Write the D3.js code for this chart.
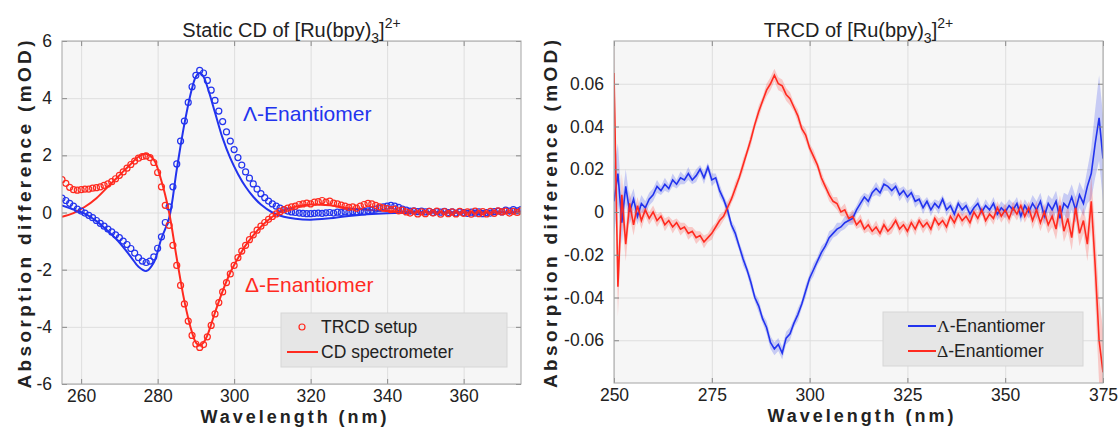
<!DOCTYPE html>
<html>
<head>
<meta charset="utf-8">
<script src="https://cdn.jsdelivr.net/npm/d3@7"></script>
<style>
  body { margin: 0; background: #fff; }
  svg text { font-family: "Liberation Sans", Arial, sans-serif; }
</style>
</head>
<body>
<script>
// ---- static CD data (TRCD setup circles, 1 nm grid 255..375) ----
const cdWlCircles = d3.range(255, 376);
const lambdaCircles = [
  0.50,0.42,0.32,0.22,0.12,0.05,-0.02,-0.10,-0.18,-0.28,
  -0.38,-0.48,-0.58,-0.68,-0.78,-0.88,-1.00,-1.12,-1.26,-1.42,
  -1.58,-1.70,-1.75,-1.70,-1.55,-1.25,-0.85,-0.35,0.20,0.90,
  1.70,2.50,3.20,3.85,4.40,4.80,4.97,4.88,4.62,4.28,
  3.92,3.55,3.18,2.82,2.50,2.20,1.92,1.66,1.42,1.20,
  1.00,0.82,0.66,0.52,0.40,0.30,0.22,0.15,0.10,0.05,
  0.02,0.00,-0.02,-0.03,-0.04,-0.04,-0.03,-0.02,-0.03,-0.01,
  0.00,-0.02,0.01,0.00,0.02,0.01,0.03,0.02,0.05,0.03,
  0.06,0.08,0.12,0.15,0.20,0.22,0.25,0.22,0.18,0.12,
  0.08,0.05,0.06,0.03,0.05,0.02,0.04,0.00,0.03,0.01,
  0.04,0.00,0.02,-0.02,0.02,0.00,-0.03,0.01,-0.02,0.02,
  -0.04,0.00,-0.02,0.03,0.05,0.02,0.08,0.05,0.10,0.06,0.10
];
const deltaCircles = [
  1.15,1.02,0.88,0.80,0.78,0.80,0.82,0.82,0.85,0.87,
  0.90,0.95,1.00,1.08,1.18,1.30,1.42,1.55,1.68,1.80,
  1.90,1.96,1.98,1.92,1.75,1.40,0.90,0.25,-0.45,-1.15,
  -1.85,-2.55,-3.20,-3.80,-4.30,-4.60,-4.72,-4.62,-4.35,-3.95,
  -3.55,-3.15,-2.78,-2.45,-2.15,-1.85,-1.58,-1.35,-1.15,-0.95,
  -0.78,-0.62,-0.48,-0.35,-0.24,-0.14,-0.05,0.03,0.10,0.15,
  0.20,0.22,0.28,0.30,0.33,0.30,0.36,0.38,0.42,0.36,
  0.40,0.33,0.30,0.26,0.22,0.18,0.20,0.15,0.22,0.28,
  0.32,0.30,0.25,0.20,0.16,0.14,0.10,0.12,0.06,0.08,
  0.02,-0.02,0.05,-0.05,0.02,-0.04,0.04,-0.02,0.05,-0.06,
  0.03,-0.04,0.02,-0.05,0.04,-0.03,0.02,-0.06,0.05,-0.04,
  0.03,-0.05,0.04,-0.03,0.06,0.02,0.05,-0.02,0.04,0.00,0.06
];

// ---- CD spectrometer lines ----
const cdWlLine = [255,258,261,264,267,270,273,275,277,279,281,283,285,287,289,290,291,292,293,295,297,299,301,303,305,307,310,313,316,320,325,330,340,350,360,375];
const lambdaLine = [0.25,0.10,-0.05,-0.30,-0.65,-1.05,-1.55,-1.90,-2.05,-1.75,-0.90,-0.20,1.50,3.10,4.35,4.75,4.88,4.75,4.40,3.50,2.60,1.90,1.35,0.90,0.55,0.28,0.00,-0.15,-0.22,-0.25,-0.20,-0.12,-0.03,0.00,0.00,0.00];
const deltaLine = [-0.15,-0.02,0.20,0.50,0.90,1.30,1.70,1.95,2.05,1.85,1.10,0.00,-1.60,-3.10,-4.20,-4.55,-4.65,-4.55,-4.30,-3.50,-2.75,-2.10,-1.60,-1.15,-0.80,-0.50,-0.15,0.08,0.20,0.28,0.25,0.15,0.05,0.02,0.00,0.00];

// ---- TRCD data (1 nm grid 250..375) ----
const trcdWl = d3.range(250, 376);
const lambdaTRCD = [
  0.005,0.018,-0.005,0.012,0.000,0.006,-0.002,0.004,0.002,0.006,
  0.008,0.012,0.010,0.013,0.011,0.015,0.013,0.016,0.015,0.018,
  0.015,0.017,0.020,0.016,0.021,0.015,0.016,0.010,0.006,0.001,
  -0.006,-0.010,-0.016,-0.022,-0.027,-0.033,-0.040,-0.044,-0.050,-0.054,
  -0.061,-0.064,-0.062,-0.066,-0.059,-0.057,-0.052,-0.048,-0.043,-0.037,
  -0.031,-0.027,-0.023,-0.019,-0.016,-0.012,-0.010,-0.008,-0.007,-0.005,
  -0.004,-0.003,0.001,0.004,0.007,0.005,0.009,0.011,0.009,0.013,
  0.012,0.010,0.012,0.008,0.010,0.007,0.009,0.005,0.006,0.002,
  0.005,0.001,0.004,0.002,0.006,0.001,0.003,-0.001,0.004,0.001,
  0.003,-0.001,0.002,0.004,0.000,0.003,0.001,0.004,-0.001,0.002,
  0.000,0.003,0.001,0.004,-0.002,0.003,0.000,0.004,0.001,0.005,
  -0.002,0.004,0.001,0.005,-0.003,0.004,0.002,0.007,0.001,0.008,
  0.004,0.012,0.018,0.032,0.044,0.025
];
const deltaTRCD = [
  0.065,-0.035,0.008,-0.015,0.004,-0.006,0.003,-0.004,0.001,-0.003,
  0.000,-0.004,-0.002,-0.006,-0.004,-0.007,-0.005,-0.008,-0.007,-0.010,
  -0.009,-0.012,-0.011,-0.014,-0.012,-0.010,-0.007,-0.004,-0.002,0.002,
  0.006,0.011,0.016,0.022,0.028,0.034,0.041,0.047,0.052,0.057,
  0.060,0.064,0.060,0.059,0.055,0.053,0.049,0.045,0.039,0.036,
  0.030,0.026,0.022,0.016,0.012,0.008,0.005,0.004,0.000,0.001,
  -0.003,-0.002,-0.006,-0.004,-0.008,-0.006,-0.009,-0.007,-0.010,-0.006,
  -0.009,-0.007,-0.004,-0.008,-0.006,-0.009,-0.005,-0.008,-0.004,-0.007,
  -0.005,-0.008,-0.003,-0.006,-0.004,-0.007,-0.002,-0.005,-0.001,-0.004,
  -0.002,-0.005,0.000,-0.003,0.001,-0.004,-0.001,-0.003,0.002,-0.002,
  0.001,-0.003,0.002,-0.001,0.003,-0.002,0.002,-0.004,0.001,-0.005,
  0.000,-0.006,-0.002,-0.008,0.003,-0.009,-0.003,-0.012,0.002,-0.010,
  -0.004,-0.015,0.005,-0.025,-0.060,-0.075
];
// uncertainty (half width of the shaded band)
const errTRCD = [
  0.016,0.014,0.010,0.008,0.006,0.005,0.004,0.004,0.003,0.003,
  0.003,0.003,0.002,0.003,0.002,0.003,0.002,0.003,0.002,0.003,
  0.002,0.003,0.002,0.003,0.002,0.003,0.002,0.003,0.002,0.003,
  0.002,0.003,0.002,0.003,0.002,0.003,0.002,0.003,0.002,0.003,
  0.003,0.003,0.003,0.003,0.003,0.003,0.002,0.003,0.002,0.003,
  0.002,0.003,0.002,0.003,0.002,0.003,0.002,0.003,0.002,0.003,
  0.002,0.003,0.002,0.003,0.002,0.003,0.002,0.003,0.002,0.003,
  0.002,0.003,0.002,0.003,0.002,0.003,0.002,0.003,0.002,0.003,
  0.002,0.003,0.002,0.003,0.002,0.003,0.002,0.003,0.002,0.003,
  0.002,0.003,0.002,0.003,0.002,0.003,0.002,0.003,0.003,0.003,
  0.003,0.003,0.003,0.003,0.003,0.003,0.003,0.004,0.004,0.004,
  0.004,0.004,0.005,0.005,0.005,0.005,0.006,0.006,0.006,0.006,
  0.006,0.008,0.012,0.016,0.020,0.020
];

// ticks
const cdXTicks = [260,280,300,320,340,360];
const cdYTicks = [-6,-4,-2,0,2,4,6];
const trcdXTicks = [250,275,300,325,350,375];
const trcdYTicks = [-0.06,-0.04,-0.02,0,0.02,0.04,0.06];

const BLUE = "#2233ee";
const RED = "#ff2a1f";

const svg = d3.select("body").append("svg")
  .attr("width", 1120)
  .attr("height", 428);

// draws box, grid, ticks and labels; returns the clipped plot group
function panel(id, x, y, xTicks, yTicks, title, yLabelGap) {
  const [x0, x1] = x.range();
  const [y1, y0] = y.range();
  const g = svg.append("g");

  g.append("rect")
    .attr("x", x0).attr("y", y0)
    .attr("width", x1 - x0).attr("height", y1 - y0)
    .attr("fill", "#f6f6f6");

  // grid
  g.append("g")
    .attr("transform", `translate(0,${y1})`)
    .call(d3.axisBottom(x).tickValues(xTicks).tickSize(-(y1 - y0)).tickFormat(""))
    .call(s => s.select(".domain").remove())
    .call(s => s.selectAll("line").attr("stroke", "#dedede"));
  g.append("g")
    .attr("transform", `translate(${x0},0)`)
    .call(d3.axisLeft(y).tickValues(yTicks).tickSize(-(x1 - x0)).tickFormat(""))
    .call(s => s.select(".domain").remove())
    .call(s => s.selectAll("line").attr("stroke", "#dedede"));

  svg.append("clipPath").attr("id", id)
    .append("rect")
    .attr("x", x0).attr("y", y0)
    .attr("width", x1 - x0).attr("height", y1 - y0);

  const plot = svg.append("g").attr("clip-path", `url(#${id})`);

  const axes = svg.append("g");
  // bottom axis with inward ticks
  axes.append("g")
    .attr("transform", `translate(0,${y1})`)
    .call(d3.axisBottom(x).tickValues(xTicks).tickSizeInner(-5).tickSizeOuter(0).tickPadding(6))
    .call(s => s.select(".domain").remove());
  axes.append("g")
    .attr("transform", `translate(0,${y0})`)
    .call(d3.axisTop(x).tickValues(xTicks).tickSizeInner(-5).tickSizeOuter(0).tickFormat(""))
    .call(s => s.select(".domain").remove());
  axes.append("g")
    .attr("transform", `translate(${x0},0)`)
    .call(d3.axisLeft(y).tickValues(yTicks).tickSizeInner(-5).tickSizeOuter(0).tickPadding(10).tickFormat(d => String(d)))
    .call(s => s.select(".domain").remove());
  axes.append("g")
    .attr("transform", `translate(${x1},0)`)
    .call(d3.axisRight(y).tickValues(yTicks).tickSizeInner(-5).tickSizeOuter(0).tickFormat(""))
    .call(s => s.select(".domain").remove());
  axes.selectAll("line").attr("stroke", "#888");
  axes.selectAll("text")
    .attr("font-size", 17.5)
    .attr("fill", "#222")
    .attr("font-family", "Liberation Sans, Arial, sans-serif");

  axes.append("rect")
    .attr("x", x0).attr("y", y0)
    .attr("width", x1 - x0).attr("height", y1 - y0)
    .attr("fill", "none")
    .attr("stroke", "#a4a4a4");

  // title with subscript / superscript
  const t = svg.append("text")
    .attr("x", (x0 + x1) / 2)
    .attr("y", y0 - 4)
    .attr("text-anchor", "middle")
    .attr("font-size", 20)
    .attr("fill", "#222");
  t.append("tspan").text(title + " [Ru(bpy)");
  t.append("tspan").attr("dy", 6).attr("font-size", 14).text("3");
  t.append("tspan").attr("dy", -6).text("]");
  t.append("tspan").attr("dy", -9).attr("font-size", 14).text("2+");

  // axis titles
  svg.append("text")
    .attr("x", (x0 + x1) / 2 + 2)
    .attr("y", y1 + 39)
    .attr("text-anchor", "middle")
    .attr("font-family", "DejaVu Sans, sans-serif")
    .attr("font-weight", "bold")
    .attr("font-size", 18)
    .attr("textLength", 186)
    .attr("lengthAdjust", "spacing")
    .attr("fill", "#222")
    .text("Wavelength (nm)");

  svg.append("text")
    .attr("transform", `translate(${x0 - yLabelGap},${(y0 + y1) / 2 + 2}) rotate(-90)`)
    .attr("text-anchor", "middle")
    .attr("font-family", "DejaVu Sans, sans-serif")
    .attr("font-weight", "bold")
    .attr("font-size", 19)
    .attr("textLength", 348)
    .attr("lengthAdjust", "spacing")
    .attr("fill", "#222")
    .text("Absorption difference (mOD)");

  return plot;
}

// ---------------- left panel: static CD ----------------
const xL = d3.scaleLinear().domain([255, 375]).range([62, 521]);
const yL = d3.scaleLinear().domain([-6, 6]).range([384, 41]);
const pL = panel("clipL", xL, yL, cdXTicks, cdYTicks, "Static CD of", 31);

const lineL = d3.line()
  .x(d => xL(d[0]))
  .y(d => yL(d[1]))
  .curve(d3.curveCatmullRom);

pL.append("path")
  .datum(cdWlLine.map((w, i) => [w, lambdaLine[i]]))
  .attr("d", lineL).attr("fill", "none")
  .attr("stroke", BLUE).attr("stroke-width", 2);
pL.append("path")
  .datum(cdWlLine.map((w, i) => [w, deltaLine[i]]))
  .attr("d", lineL).attr("fill", "none")
  .attr("stroke", RED).attr("stroke-width", 2);

pL.append("g").selectAll("circle")
  .data(cdWlCircles.map((w, i) => [w, lambdaCircles[i]]))
  .join("circle")
  .attr("cx", d => xL(d[0])).attr("cy", d => yL(d[1]))
  .attr("r", 3).attr("fill", "none")
  .attr("stroke", BLUE).attr("stroke-width", 1.2);
pL.append("g").selectAll("circle")
  .data(cdWlCircles.map((w, i) => [w, deltaCircles[i]]))
  .join("circle")
  .attr("cx", d => xL(d[0])).attr("cy", d => yL(d[1]))
  .attr("r", 3).attr("fill", "none")
  .attr("stroke", RED).attr("stroke-width", 1.2);

svg.append("text")
  .attr("x", 243).attr("y", 121)
  .attr("font-size", 21).attr("fill", BLUE)
  .text("Λ-Enantiomer");
svg.append("text")
  .attr("x", 245).attr("y", 292)
  .attr("font-size", 21).attr("fill", RED)
  .text("Δ-Enantiomer");

// legend (left)
const legL = svg.append("g");
legL.append("rect")
  .attr("x", 281).attr("y", 313).attr("width", 226).attr("height", 54)
  .attr("fill", "#e6e6e6").attr("stroke", "#d6d6d6");
legL.append("circle")
  .attr("cx", 302).attr("cy", 327).attr("r", 3)
  .attr("fill", "none").attr("stroke", RED).attr("stroke-width", 1.2);
legL.append("line")
  .attr("x1", 287).attr("x2", 318).attr("y1", 352).attr("y2", 352)
  .attr("stroke", RED).attr("stroke-width", 2);
legL.append("text").attr("x", 321).attr("y", 333)
  .attr("font-size", 17.5).attr("fill", "#222").text("TRCD setup");
legL.append("text").attr("x", 321).attr("y", 358)
  .attr("font-size", 17.5).attr("fill", "#222").text("CD spectrometer");

// ---------------- right panel: TRCD ----------------
const xR = d3.scaleLinear().domain([250, 375]).range([614, 1103]);
const yR = d3.scaleLinear().domain([-0.08, 0.08]).range([383, 41]);
const pR = panel("clipR", xR, yR, trcdXTicks, trcdYTicks, "TRCD of", 57);

const band = vals => d3.area()
  .x((d, i) => xR(trcdWl[i]))
  .y0((d, i) => yR(vals[i] - errTRCD[i]))
  .y1((d, i) => yR(vals[i] + errTRCD[i]));
const lineR = vals => d3.line()
  .x((d, i) => xR(trcdWl[i]))
  .y((d, i) => yR(vals[i]));

pR.append("path").datum(lambdaTRCD)
  .attr("d", band(lambdaTRCD)).attr("fill", BLUE).attr("opacity", 0.22);
pR.append("path").datum(deltaTRCD)
  .attr("d", band(deltaTRCD)).attr("fill", RED).attr("opacity", 0.22);
pR.append("path").datum(lambdaTRCD)
  .attr("d", lineR(lambdaTRCD)).attr("fill", "none")
  .attr("stroke", BLUE).attr("stroke-width", 1.6);
pR.append("path").datum(deltaTRCD)
  .attr("d", lineR(deltaTRCD)).attr("fill", "none")
  .attr("stroke", RED).attr("stroke-width", 1.6);

// legend (right)
const legR = svg.append("g");
legR.append("rect")
  .attr("x", 883).attr("y", 312).attr("width", 200).attr("height", 54)
  .attr("fill", "#e6e6e6").attr("stroke", "#d6d6d6");
[["Λ", BLUE, 326], ["Δ", RED, 351]].forEach(([g, c, yy]) => {
  legR.append("line")
    .attr("x1", 908).attr("x2", 936).attr("y1", yy).attr("y2", yy)
    .attr("stroke", c).attr("stroke-width", 2);
  const t = legR.append("text").attr("x", 937).attr("y", yy + 6)
    .attr("font-size", 17.5).attr("fill", "#222");
  t.append("tspan").attr("font-family", "Liberation Serif, serif").text(g);
  t.append("tspan").text("-Enantiomer");
});
</script>
</body>
</html>
